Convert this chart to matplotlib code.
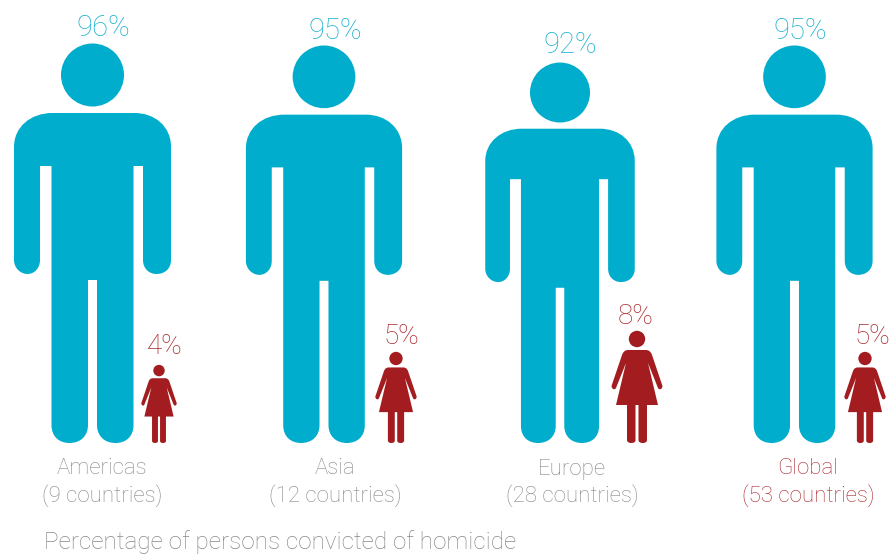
import matplotlib
matplotlib.use("Agg")
import matplotlib.pyplot as plt
from matplotlib.path import Path
from matplotlib.patches import PathPatch, Circle
import numpy as np

regions = ["Americas", "Asia", "Europe", "Global"]
countries = ["(9 countries)", "(12 countries)", "(28 countries)", "(53 countries)"]
male_pct = [96, 95, 92, 95]
female_pct = [4, 5, 8, 5]
footer = "Percentage of persons convicted of homicide"

TEAL = "#00ADCC"
RED = "#A31D20"
TEAL_T = "#1AB0D1"
RED_T = "#AC2A2F"
GREY = "#888888"
plt.rcParams['font.family'] = ['Roboto', 'DejaVu Sans']

man_x = [92.5, 324, 560, 794.5]
woman_x = [159, 396, 637, 865]
man_h = [399, 397, 380, 397]
woman_h = [78, 91, 112, 91]
man_lab_x = [103, 335, 570, 800]
man_lab_y = [28, 31, 45, 31]
woman_lab_x = [165, 401, 636, 872]
woman_lab_y = [347, 336, 317, 336]
region_x = [102, 335, 572, 808]
BASE = 443

M, L, C, Z = Path.MOVETO, Path.LINETO, Path.CURVE4, Path.CLOSEPOLY


def build(segs):
    v, c = [], []
    for code, pts in segs:
        for p in pts:
            v.append(p)
            c.append(code)
    return np.array(v, float), c


man_segs = [
    (M, [(-41, 162)]), (L, [(-41, 18)]),
    (C, [(-41, 6), (-33, 0), (-23, 0)]),
    (C, [(-12, 0), (-4.5, 7), (-4.5, 18)]),
    (L, [(-4.5, 163), (4.5, 163), (4.5, 18)]),
    (C, [(4.5, 7), (12, 0), (23, 0)]),
    (C, [(33, 0), (41, 6), (41, 18)]),
    (L, [(41, 277), (50.5, 277), (50.5, 183)]),
    (C, [(50.5, 174), (57, 169), (64, 169)]),
    (C, [(72, 169), (78.5, 174), (78.5, 183)]),
    (L, [(78.5, 296)]),
    (C, [(78.5, 317), (62, 330), (42, 330)]),
    (L, [(-40, 330)]),
    (C, [(-62, 330), (-78.5, 316), (-78.5, 296)]),
    (L, [(-78.5, 183)]),
    (C, [(-78.5, 175), (-72, 169), (-65, 169)]),
    (C, [(-58, 169), (-52.5, 175), (-52.5, 183)]),
    (L, [(-52.5, 277), (-41, 277), (-41, 162)]),
    (Z, [(-41, 162)]),
]
man_v, man_c = build(man_segs)
man_v = man_v / 399.0
man_head = (0.0, 368 / 399.0, 31.5 / 399.0)

woman_segs = [
    (M, [(-10, 38)]), (L, [(-10, 3)]),
    (C, [(-10, 1), (-8, 0), (-6, 0)]),
    (C, [(-3, 0), (-1.5, 1), (-1.5, 3)]),
    (L, [(-1.5, 38), (1.5, 38), (1.5, 3)]),
    (C, [(1.5, 1), (3, 0), (6, 0)]),
    (C, [(8, 0), (10, 1), (10, 3)]),
    (L, [(10, 38), (21, 38), (11, 80), (21, 55)]),
    (C, [(22, 53), (25, 53), (25.5, 57)]),
    (L, [(15, 88)]),
    (C, [(14, 91), (12, 93), (9, 93)]),
    (L, [(-9, 93)]),
    (C, [(-12, 93), (-14, 91), (-15, 88)]),
    (L, [(-25.5, 57)]),
    (C, [(-25, 53), (-22, 53), (-21, 55)]),
    (L, [(-11, 80), (-21, 38), (-10, 38)]),
    (Z, [(-10, 38)]),
]
woman_v, woman_c = build(woman_segs)
woman_v = woman_v / 112.0
woman_head = (0.0, 104 / 112.0, 8.2 / 112.0)


def person(ax, cx, h, verts, codes, head, color):
    pts = np.column_stack([cx + verts[:, 0] * h, BASE - verts[:, 1] * h])
    ax.add_patch(PathPatch(Path(pts, codes), fc=color, ec="none"))
    ax.add_patch(Circle((cx + head[0] * h, BASE - head[1] * h), head[2] * h, fc=color, ec="none"))


fig = plt.figure(figsize=(8.91, 5.55), dpi=100)
ax = fig.add_axes([0, 0, 1, 1])
ax.set_xlim(0, 891)
ax.set_ylim(555, 0)
ax.axis("off")

for i, r in enumerate(regions):
    person(ax, man_x[i], man_h[i], man_v, man_c, man_head, TEAL)
    ax.text(man_lab_x[i], man_lab_y[i], f"{male_pct[i]}%", color=TEAL_T, fontsize=21,
            fontweight="light", ha="center", va="center")
    person(ax, woman_x[i], woman_h[i], woman_v, woman_c, woman_head, RED)
    ax.text(woman_lab_x[i], woman_lab_y[i], f"{female_pct[i]}%", color=RED_T, fontsize=20,
            fontweight="light", ha="center", va="center")
    col = RED_T if r == "Global" else GREY
    ax.text(region_x[i], 469, r, color=col, fontsize=16, fontweight="light", ha="center", va="center")
    ax.text(region_x[i], 496, countries[i], color=col, fontsize=16, fontweight="light", ha="center", va="center")

ax.text(44, 549.5, footer, color=GREY, fontsize=17.5, fontweight="light", ha="left", va="baseline")
fig.savefig("out.png", dpi=100)
